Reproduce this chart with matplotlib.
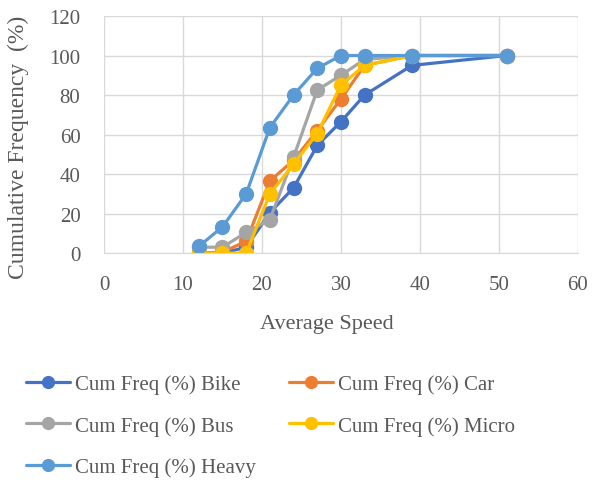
import matplotlib.pyplot as plt
from matplotlib.ticker import MultipleLocator

plt.rcParams['font.family'] = ['Liberation Serif', 'DejaVu Serif']

# average speed bins shared by every vehicle class
speed = [12, 15, 18, 21, 24, 27, 30, 33, 39, 51]

# cumulative frequency (%) per class
bike = [0, 0, 3, 20.5, 33, 54.5, 66.5, 80, 95, 100]
car = [0, 0.5, 6, 36.5, 47, 62, 78, 95, 100, 100]
bus = [3, 3, 10.5, 17, 48.5, 82.5, 90, 98, 100, 100]
micro = [0, 0, 0, 30, 45, 60.5, 85, 95, 100, 100]
heavy = [3.4, 13.3, 30, 63.5, 80, 93.5, 100, 100, 100, 100]

labels = ['Cum Freq (%) Bike', 'Cum Freq (%) Car', 'Cum Freq (%) Bus',
          'Cum Freq (%) Micro', 'Cum Freq (%) Heavy']
colors = ['#4472C4', '#ED7D31', '#A5A5A5', '#FFC000', '#5B9BD5']
series = [bike, car, bus, micro, heavy]

text_col = '#595959'

fig = plt.figure(figsize=(6.05, 4.85), dpi=100)
ax = fig.add_axes([0.172, 0.476, 0.783, 0.489])

lines = []
for vals, lab, c in zip(series, labels, colors):
    ln, = ax.plot(speed, vals, color=c, lw=2.3, marker='o', ms=10,
                  label=lab, solid_capstyle='round')
    lines.append(ln)

ax.set_xlim(0, 60)
ax.set_ylim(0, 120)
ax.xaxis.set_major_locator(MultipleLocator(10))
ax.yaxis.set_major_locator(MultipleLocator(20))
ax.grid(True, color='#D9D9D9', lw=1)
ax.set_axisbelow(True)
for s in ['top', 'right', 'left']:
    ax.spines[s].set_visible(False)
ax.spines['bottom'].set_color('#D9D9D9')
ax.tick_params(length=0, labelsize=15, labelcolor=text_col)
ax.tick_params(axis='x', pad=16)
ax.tick_params(axis='y', pad=17)

ax.set_xlabel('Average Speed', fontsize=16, color=text_col)
ax.xaxis.set_label_coords(0.47, -0.256)
ax.set_ylabel('Cumulative Frequency  (%)', fontsize=17, color=text_col)
ax.yaxis.set_label_coords(-0.158, 0.45)

# legend laid out row by row: Bike/Car, Bus/Micro, Heavy
order = [0, 2, 4, 1, 3]
fig.legend([lines[i] for i in order], [labels[i] for i in order],
           ncol=2, loc='upper left', bbox_to_anchor=(0.043, 0.226),
           frameon=False, fontsize=15, handlelength=2.1, handletextpad=0.25,
           columnspacing=1.6, labelspacing=1.05, labelcolor=text_col,
           markerscale=0.85, borderaxespad=0, borderpad=0)

fig.savefig('out.png', dpi=100)
